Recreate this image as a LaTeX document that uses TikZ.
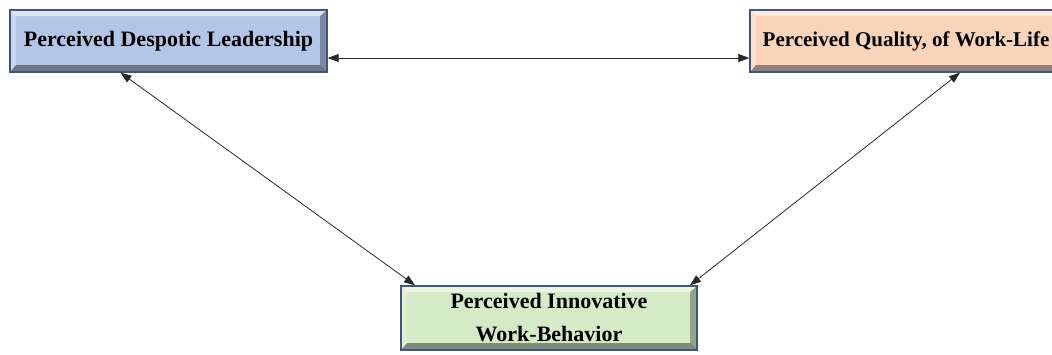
\documentclass[tikz,border=0pt]{standalone}
\usepackage{fontspec}
\setmainfont{Liberation Serif}
\usetikzlibrary{arrows.meta}

\definecolor{leadblue}{RGB}{180,198,231}
\definecolor{qualpeach}{RGB}{250,212,186}
\definecolor{innovgreen}{RGB}{213,234,198}
\definecolor{boxline}{RGB}{62,86,128}
\definecolor{linkgray}{RGB}{40,40,40}

\begin{document}
\begin{tikzpicture}[x=1pt,y=-1pt]
  \tikzstyle{box}=[draw=boxline, line width=1.4pt, inner sep=0pt, align=center,
    font=\bfseries\fontsize{22}{26}\selectfont,
    path picture={
      \coordinate (nw) at (path picture bounding box.north west);
      \coordinate (ne) at (path picture bounding box.north east);
      \coordinate (sw) at (path picture bounding box.south west);
      \coordinate (se) at (path picture bounding box.south east);
      % bevel: light on top and left, dark on bottom and right
      \fill[white,opacity=.55] (nw) -- (ne) -- ([shift={(-7pt,-6pt)}]ne) -- ([shift={(6pt,-6pt)}]nw) -- cycle;
      \fill[white,opacity=.3] (nw) -- ([shift={(6pt,-6pt)}]nw) -- ([shift={(6pt,7pt)}]sw) -- (sw) -- cycle;
      \fill[black,opacity=.3] (ne) -- ([shift={(-7pt,-6pt)}]ne) -- ([shift={(-7pt,7pt)}]se) -- (se) -- cycle;
      \fill[black,opacity=.4] (sw) -- ([shift={(6pt,7pt)}]sw) -- ([shift={(-7pt,7pt)}]se) -- (se) -- cycle;
    }]
  \tikzstyle{link}=[<->, >={Triangle[length=11pt,width=8pt]}, draw=linkgray, line width=0.8pt]

  \clip (0,0) rectangle (1052,354);

  \node[box, fill=leadblue, minimum width=317pt, minimum height=62pt] (lead) at (168.5,41)
    {Perceived Despotic Leadership};
  \node[box, fill=qualpeach, minimum width=312pt, minimum height=62pt,
    font=\bfseries\fontsize{21}{25}\selectfont] (qual) at (906,41)
    {Perceived Quality, of Work-Life};
  \node[box, fill=innovgreen, minimum width=296pt, minimum height=64pt] (innov) at (549,318)
    {Perceived Innovative\\[7pt]Work-Behavior};

  \draw[link] ([yshift=-17pt]lead.east) -- ([yshift=-17pt]qual.west);
  \draw[link] ([xshift=-48pt]lead.south) -- ([xshift=-134pt]innov.north);
  \draw[link] ([xshift=54pt]qual.south) -- ([xshift=141pt]innov.north);
\end{tikzpicture}
\end{document}
